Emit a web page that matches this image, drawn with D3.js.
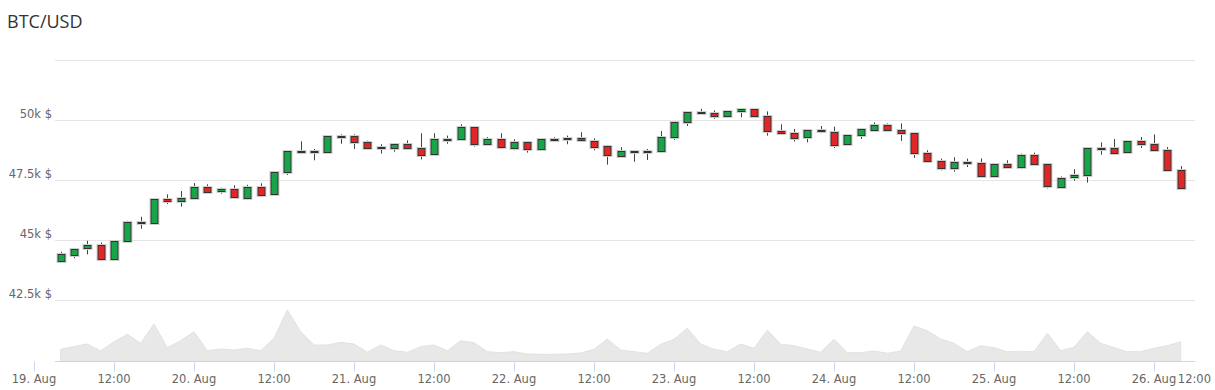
<!DOCTYPE html>
<html>
<head>
<meta charset="utf-8">
<script src="https://cdn.jsdelivr.net/npm/d3@7"></script>
<style>
  body { margin: 0; background: #fff; }
</style>
</head>
<body>
<script>
'use strict';

// 2-hour candles, 19 Aug 04:00 to 26 Aug 04:00 (UTC)
const startTime = new Date(Date.UTC(2021, 7, 19, 4));
const endTime = new Date(Date.UTC(2021, 7, 26, 6));

const openPrices = [
  44100, 44400, 44640, 44780, 44210, 44960, 45760, 45710, 46710, 46610,
  46750, 47220, 47030, 47120, 46780, 47220, 46900, 47830, 48710, 48690,
  48660, 49330, 49350, 49080, 48850, 48860, 49010, 48850, 48570, 49200,
  49210, 49710, 48990, 49200, 48850, 49100, 48800, 49200, 49220, 49240,
  49140, 48900, 48530, 48720, 48700, 48720, 49290, 49900, 50320, 50280,
  50150, 50360, 50460, 50170, 49550, 49450, 49260, 49570, 49520, 48990,
  49370, 49610, 49800, 49600, 49460, 48610, 48290, 48010, 48250, 48220,
  47670, 48150, 48010, 48530, 48150, 47240, 47600, 47700, 48820, 48850,
  48650, 49110, 48990, 48750, 47920
];
const highPrices = [
  44510, 44650, 44970, 44890, 44970, 45800, 45970, 46750, 46900, 47040,
  47370, 47320, 47180, 47280, 47300, 47360, 47840, 48720, 49110, 48790,
  49350, 49400, 49400, 49140, 48990, 49020, 49150, 49450, 49450, 49350,
  49820, 49720, 49290, 49450, 49200, 49110, 49240, 49280, 49350, 49490,
  49240, 48960, 48870, 48730, 48790, 49540, 49910, 50330, 50470, 50400,
  50400, 50500, 50500, 50360, 49820, 49630, 49580, 49750, 49720, 49400,
  49670, 49900, 49860, 49860, 49470, 48740, 48390, 48450, 48390, 48400,
  48160, 48320, 48600, 48640, 48160, 47650, 47950, 48860, 49070, 49210,
  49120, 49290, 49400, 48870, 48080
];
const lowPrices = [
  44050, 44240, 44400, 44190, 44190, 44950, 45470, 45700, 46500, 46390,
  46680, 47020, 46930, 46720, 46770, 46850, 46890, 47710, 48580, 48320,
  48650, 49010, 48790, 48750, 48600, 48680, 48840, 48360, 48560, 49010,
  49200, 48890, 48930, 48840, 48740, 48640, 48790, 49120, 48990, 49130,
  48740, 48140, 48450, 48260, 48330, 48700, 49170, 49750, 50210, 50050,
  50140, 50110, 50160, 49350, 49390, 49110, 49070, 49450, 48830, 48980,
  49210, 49540, 49590, 49130, 48420, 48220, 47900, 47850, 48040, 47610,
  47660, 48000, 47950, 48100, 47150, 47200, 47470, 47390, 48550, 48610,
  48640, 48830, 48740, 47910, 47160
];
const closePrices = [
  44400, 44640, 44780, 44210, 44960, 45760, 45710, 46710, 46610, 46750,
  47220, 47030, 47120, 46780, 47220, 46900, 47830, 48710, 48690, 48660,
  49330, 49350, 49080, 48850, 48860, 49010, 48850, 48570, 49200, 49210,
  49710, 48990, 49200, 48850, 49100, 48800, 49200, 49220, 49240, 49140,
  48900, 48530, 48720, 48700, 48720, 49290, 49900, 50320, 50280, 50150,
  50360, 50460, 50170, 49550, 49450, 49260, 49570, 49520, 48990, 49370,
  49610, 49800, 49600, 49460, 48610, 48290, 48010, 48250, 48220, 47670,
  48150, 48010, 48530, 48150, 47240, 47600, 47700, 48820, 48850, 48650,
  49110, 48990, 48750, 47920, 47170
];
const volumes = [
  1170, 1450, 1700, 1000, 1930, 2670, 1770, 3700, 1330, 2030,
  2930, 1030, 1200, 1100, 1270, 1030, 2270, 5100, 2930, 1600,
  1600, 1870, 1700, 870, 1600, 1030, 870, 1430, 1600, 1030,
  2030, 1830, 930, 830, 930, 700, 670, 670, 700, 800,
  1170, 2200, 1100, 930, 770, 1670, 2170, 3270, 1700, 1170,
  930, 1700, 1270, 3100, 1670, 1530, 1200, 870, 2170, 830,
  830, 1000, 770, 1000, 3500, 3030, 2200, 1770, 930, 1530,
  1330, 930, 930, 930, 2770, 1030, 1370, 2930, 1770, 1330,
  930, 930, 1270, 1530, 1930
];

const priceTicks = [42500, 45000, 47500, 50000];
const gridTicks = [42500, 45000, 47500, 50000, 52500];

(function () {
  let svg = ""; // svg reference

  window.onload = function () {
    svg = d3.select('body')
      .append('svg')
      .attr('width', 1215)
      .attr('height', 390);

    const times = d3.utcHour.every(2).range(startTime, endTime);
    const candles = times.map((t, i) => ({
      t: t,
      open: openPrices[i],
      high: highPrices[i],
      low: lowPrices[i],
      close: closePrices[i],
      vol: volumes[i]
    }));

    drawChart(candles);
  }

  function drawChart(data) {
    const plot = { left: 55, right: 1195, top: 60, bottom: 300, axis: 361 };

    // 160px per day, 19 Aug 00:00 sits at x=34
    const xScale = d3.scaleUtc()
      .domain([new Date(Date.UTC(2021, 7, 19)), new Date(Date.UTC(2021, 7, 26))])
      .range([34, 1154]);

    const yScale = d3.scaleLinear()
      .domain([42500, 52500])
      .range([plot.bottom, plot.top]);

    const volScale = d3.scaleLinear()
      .domain([0, 6100])
      .range([plot.axis, 300]);

    // title
    svg.append('text')
      .attr('x', 7)
      .attr('y', 28)
      .style('font-family', '"Open Sans", sans-serif')
      .style('font-size', '18px')
      .style('fill', '#333')
      .text('BTC/USD');

    // grid lines
    svg.append('g')
      .selectAll('line')
      .data(gridTicks)
      .enter()
      .append('line')
      .attr('x1', plot.left)
      .attr('x2', plot.right)
      .attr('y1', d => Math.round(yScale(d)) + 0.5)
      .attr('y2', d => Math.round(yScale(d)) + 0.5)
      .attr('stroke', '#e6e6e6')
      .attr('stroke-width', 1);

    // y labels
    const fmt = d => (d / 1000) + 'k $';
    svg.append('g')
      .selectAll('text')
      .data(priceTicks)
      .enter()
      .append('text')
      .attr('x', 52)
      .attr('y', d => yScale(d) - 2)
      .attr('text-anchor', 'end')
      .style('font-family', '"DejaVu Sans", Verdana, sans-serif')
      .style('font-size', '11.5px')
      .style('fill', '#666')
      .text(fmt);

    // volume area
    const area = d3.area()
      .x(d => xScale(d.t))
      .y0(plot.axis)
      .y1(d => volScale(d.vol));

    svg.append('path')
      .datum(data)
      .attr('fill', '#e8e8e8')
      .attr('stroke', '#e2e2e2')
      .attr('stroke-width', 1)
      .attr('d', area);

    // x axis
    const tickFmt = d => d.getUTCHours() === 0 ? d3.utcFormat('%-d. %b')(d) : d3.utcFormat('%H:%M')(d);

    const gx = svg.append('g')
      .attr('transform', 'translate(0,' + (plot.axis + 0.5) + ')');
    gx.append('line')
      .attr('x1', plot.left)
      .attr('x2', plot.right)
      .attr('stroke', '#ccd6eb');

    const tickTimes = d3.utcHour.every(12).range(
      new Date(Date.UTC(2021, 7, 19)), new Date(Date.UTC(2021, 7, 26, 13)));
    const ticks = gx.selectAll('g.tick')
      .data(tickTimes)
      .enter()
      .append('g')
      .attr('class', 'tick');
    ticks.filter(d => xScale(d) <= plot.right)
      .append('line')
      .attr('x1', d => Math.round(xScale(d)) + 0.5)
      .attr('x2', d => Math.round(xScale(d)) + 0.5)
      .attr('y1', 0)
      .attr('y2', 10)
      .attr('stroke', '#ccd6eb');
    ticks.append('text')
      .attr('x', d => xScale(d))
      .attr('y', 21)
      .attr('text-anchor', 'middle')
      .style('font-family', '"DejaVu Sans", Verdana, sans-serif')
      .style('font-size', '11.5px')
      .style('fill', '#666')
      .text(tickFmt)
      .each(function () {
        // push labels that run past the chart edge back inside
        const box = this.getBBox();
        const edge = 1211;
        if (box.x + box.width > edge) {
          d3.select(this).attr('text-anchor', 'end').attr('x', edge);
        }
      });

    // candles
    const bodyW = 7;
    const g = svg.append('g');
    const candle = g.selectAll('g.candle')
      .data(data)
      .enter()
      .append('g')
      .attr('class', 'candle');

    const cx = d => Math.round(xScale(d.t)) + 0.5;

    candle.append('line')
      .attr('x1', cx)
      .attr('x2', cx)
      .attr('y1', d => yScale(d.high))
      .attr('y2', d => yScale(d.low))
      .attr('stroke', '#444')
      .attr('stroke-width', 1);

    // soft halo round the body
    candle.append('rect')
      .attr('x', d => cx(d) - bodyW / 2 - 1)
      .attr('y', d => Math.round(yScale(Math.max(d.open, d.close))) - 0.5)
      .attr('width', bodyW + 2)
      .attr('height', d => Math.max(1, Math.round(Math.abs(yScale(d.open) - yScale(d.close)))) + 2)
      .attr('fill', 'none')
      .attr('stroke', '#cfcfcf')
      .attr('stroke-width', 1);

    candle.append('rect')
      .attr('x', d => cx(d) - bodyW / 2)
      .attr('y', d => Math.round(yScale(Math.max(d.open, d.close))) + 0.5)
      .attr('width', bodyW)
      .attr('height', d => Math.max(1, Math.round(Math.abs(yScale(d.open) - yScale(d.close)))))
      .attr('fill', d => d.close >= d.open ? '#18a449' : '#e02626')
      .attr('stroke', '#333')
      .attr('stroke-width', 1);
  }
})();
</script>
</body>
</html>
